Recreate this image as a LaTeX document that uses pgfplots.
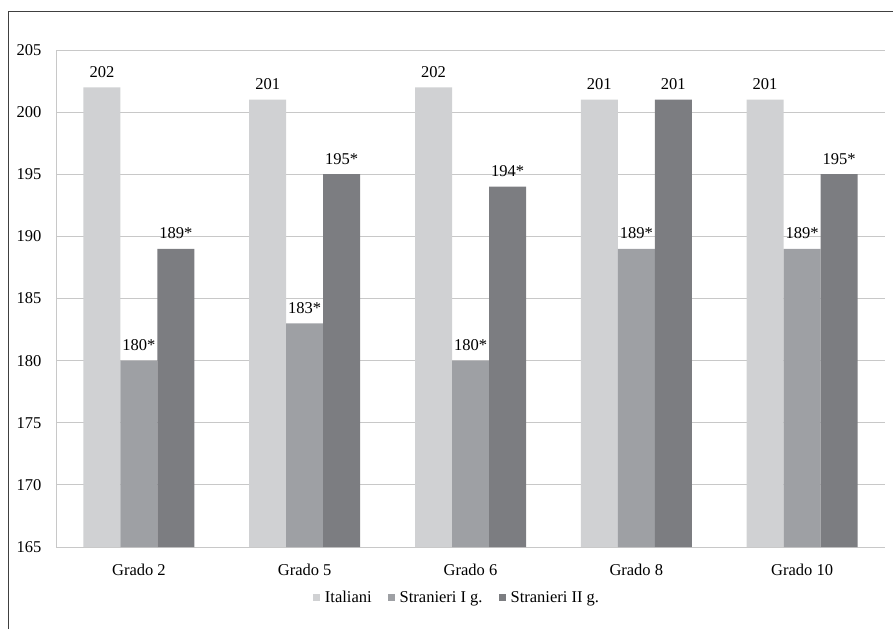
\documentclass[border=0pt]{standalone}
\usepackage{pgfplots}
\pgfplotsset{compat=1.18}
\usepackage{pgfplotstable}
\usepackage{fontspec}
\setmainfont{Liberation Serif}
\definecolor{cA}{HTML}{D0D1D3}
\definecolor{cB}{HTML}{9EA0A4}
\definecolor{cC}{HTML}{7C7D81}
\definecolor{gridc}{HTML}{C8C8C8}
\pgfplotstableread{
x y lab
0 202 202
1 201 201
2 202 202
3 201 201
4 201 201
}\ita
\pgfplotstableread{
x y lab
0 180 180*
1 183 183*
2 180 180*
3 189 189*
4 189 189*
}\strA
\pgfplotstableread{
x y lab
0 189 189*
1 195 195*
2 194 194*
3 201 201
4 195 195*
}\strB
\begin{document}
\fontsize{16.5}{19}\selectfont
\begin{tikzpicture}
\useasboundingbox (-56pt,-82pt) rectangle (837pt,547pt);
\draw[color=black!75, line width=0.9pt] (-48pt,-82pt) -- (-48pt,536pt) -- (837pt,536pt);
\begin{axis}[
  name=ax, at={(0pt,0pt)}, anchor=south west,
  scale only axis, width=829pt, height=497pt,
  ybar=0pt, bar width=37pt,
  xmin=-0.5, xmax=4.5, ymin=165, ymax=205,
  xtick={0,1,2,3,4},
  xticklabels={Grado 2,Grado 5,Grado 6,Grado 8,Grado 10},
  ytick={165,170,...,205},
  ymajorgrids, grid style={gridc, line width=0.8pt},
  axis lines*=left, axis line style={-, gridc, line width=0.8pt},
  major tick length=0pt,
  tick label style={font=\fontsize{16.5}{19}\selectfont},
  /pgf/number format/assume math mode=true,
  yticklabel style={xshift=-9pt},
  xticklabel style={yshift=-11pt},
  point meta=explicit symbolic,
  nodes near coords,
  nodes near coords style={font=\fontsize{16.5}{19}\selectfont, yshift=4pt},
  legend style={at={(0.4837,-0.103)}, anchor=center, draw=none, fill=none,
    legend columns=-1, font=\fontsize{16.5}{19}\selectfont},
  legend image code/.code={\fill[#1] (0pt,-3pt) rectangle (7pt,4pt); \path (10pt,0pt);},
]
\addplot[fill=cA, draw=none] table[x=x,y=y,meta=lab]{\ita};
\addplot[fill=cB, draw=none] table[x=x,y=y,meta=lab]{\strA};
\addplot[fill=cC, draw=none] table[x=x,y=y,meta=lab]{\strB};
\legend{Italiani\hspace*{14pt},Stranieri I g.\hspace*{14pt},Stranieri II g.}
\end{axis}
\end{tikzpicture}
\end{document}
